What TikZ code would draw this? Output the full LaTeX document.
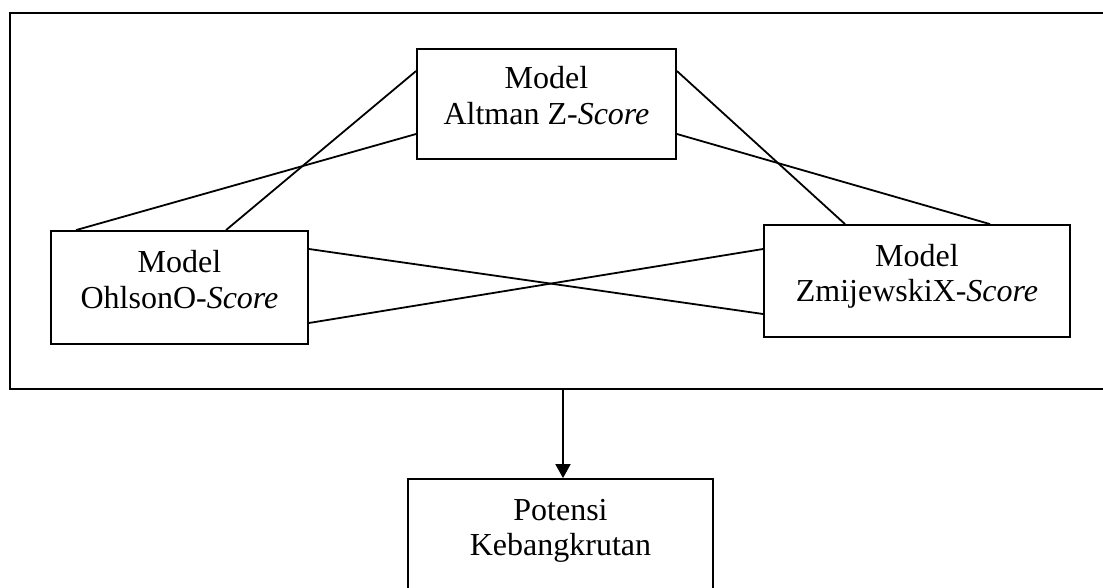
\documentclass[tikz,border=0pt]{standalone}
\usepackage{fontspec}
\setmainfont{Liberation Serif}
\usetikzlibrary{arrows.meta}
\tikzstyle{model} = [rectangle, draw, line width=1.8pt, inner sep=0pt, minimum height=112pt, align=center, text height=56.5pt, text depth=15.5pt, font=\fontsize{32}{35.5}\selectfont]
\tikzstyle{link} = [line width=1.8pt]

\begin{document}
\begin{tikzpicture}[x=1pt, y=-1pt, >={Triangle[width=15pt,length=14pt]}]
        \useasboundingbox (0,0) rectangle (1103,588);
        \clip (0,0) rectangle (1103,588);
        \node[draw, line width=1.8pt, inner sep=0pt, minimum width=1101pt, minimum height=376pt, anchor=north west] (frame) at (9,12) {};

        \node[model, minimum width=259pt, minimum height=110pt] (altman) at (546.5,104) {Model\\Altman Z-\textit{Score}};
        \node[model, minimum width=257pt, minimum height=113pt] (ohlson) at (179.5,287.5) {Model\\OhlsonO-\textit{Score}};
        \node[model, minimum width=306pt] (zmijewski) at (917,281) {Model\\ZmijewskiX-\textit{Score}};
        \node[model, minimum width=305pt] (potensi) at (560.5,535) {Potensi\\Kebangkrutan};

        \draw[link] ([yshift=33pt]altman.west) -- ([xshift=46.5pt]ohlson.north);
        \draw[link] ([yshift=-30pt]altman.west) -- ([xshift=-103.5pt]ohlson.north);
        \draw[link] ([yshift=33pt]altman.east) -- ([xshift=-72pt]zmijewski.north);
        \draw[link] ([yshift=-30pt]altman.east) -- ([xshift=73pt]zmijewski.north);
        \draw[link] ([yshift=38.5pt]ohlson.east) -- ([yshift=-33pt]zmijewski.west);
        \draw[link] ([yshift=-35.5pt]ohlson.east) -- ([yshift=32pt]zmijewski.west);

        \coordinate (drop) at (563,388);
        \draw[link, ->] (drop) -- (drop |- potensi.north);
    \end{tikzpicture}
\end{document}
